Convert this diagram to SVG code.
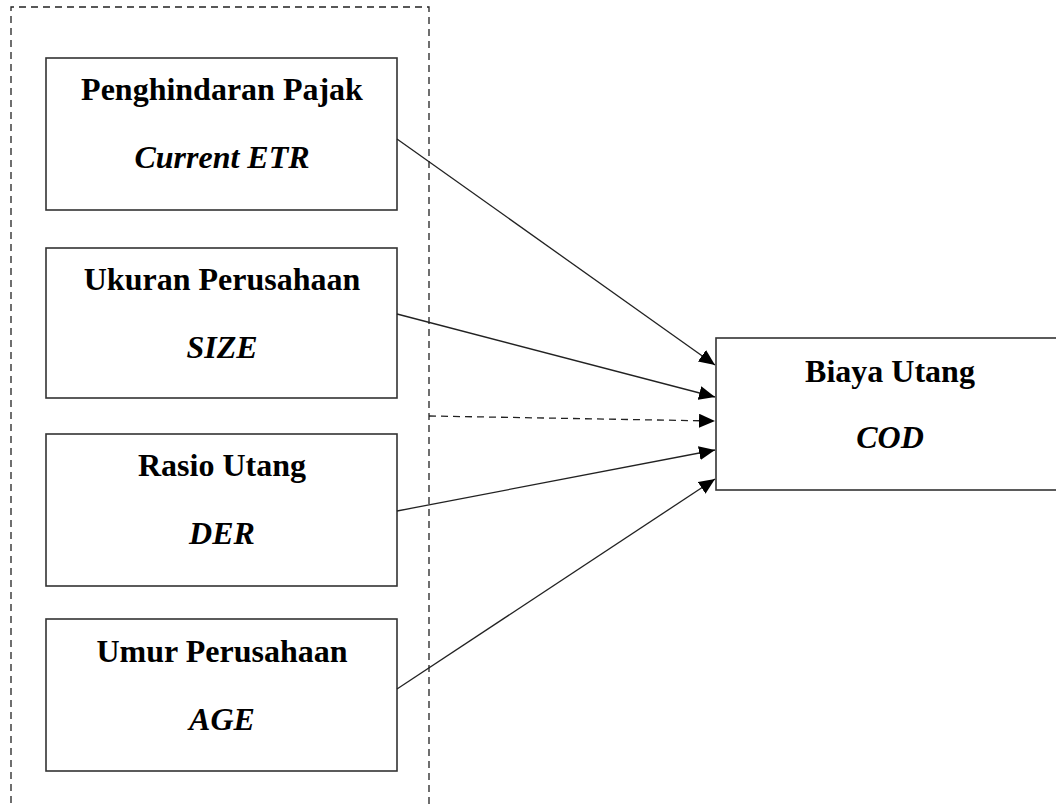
<svg xmlns="http://www.w3.org/2000/svg" width="1056" height="808" viewBox="0 0 1056 808">
<style>
.box{fill:#fff;stroke:#333;stroke-width:1.6}
.t{font-family:"Liberation Serif","Times New Roman",serif;font-size:32px;font-weight:bold;fill:#000;text-anchor:middle}
.i{font-style:italic}
.c{stroke:#222;stroke-width:1.3;fill:none;marker-end:url(#ah)}
.d{stroke-dasharray:7,5}
</style>
<defs>
<marker id="ah" markerUnits="userSpaceOnUse" markerWidth="18" markerHeight="14" refX="16" refY="7" orient="auto">
<path d="M0,0 L16,7 L0,14 Z" fill="#000"/>
</marker>
</defs>
<rect x="0" y="0" width="1056" height="808" fill="#fff"/>
<g id="group-frame">
<path d="M11,815 L11,7 L429,7 L429,815" fill="none" stroke="#222" stroke-width="1.3" stroke-dasharray="7,5"/>
</g>
<g id="node-etr">
<rect class="box" x="46" y="58" width="351" height="152"/>
<text class="t" x="222" y="100">Penghindaran Pajak</text>
<text class="t i" x="222" y="168">Current ETR</text>
</g>
<g id="node-size">
<rect class="box" x="46" y="248" width="351" height="150"/>
<text class="t" x="222" y="290">Ukuran Perusahaan</text>
<text class="t i" x="222" y="358">SIZE</text>
</g>
<g id="node-der">
<rect class="box" x="46" y="434" width="351" height="152"/>
<text class="t" x="222" y="476">Rasio Utang</text>
<text class="t i" x="222" y="544">DER</text>
</g>
<g id="node-age">
<rect class="box" x="46" y="619" width="351" height="152"/>
<text class="t" x="222" y="662">Umur Perusahaan</text>
<text class="t i" x="222" y="730">AGE</text>
</g>
<g id="node-cod">
<rect class="box" x="716" y="338" width="350" height="152"/>
<text class="t" x="890" y="382">Biaya Utang</text>
<text class="t i" x="890" y="448">COD</text>
</g>
<g id="connectors">
<line class="c" x1="397" y1="139" x2="715" y2="365"/>
<line class="c" x1="397" y1="314" x2="715" y2="397"/>
<line class="c d" x1="429" y1="416" x2="715" y2="421"/>
<line class="c" x1="397" y1="511" x2="715" y2="450"/>
<line class="c" x1="397" y1="689" x2="715" y2="479"/>
</g>
</svg>
